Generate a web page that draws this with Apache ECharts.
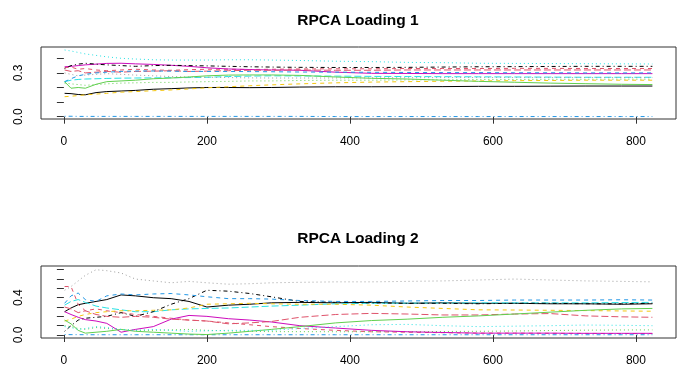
<!DOCTYPE html>
<html>
<head>
<meta charset="utf-8">
<script src="https://cdn.jsdelivr.net/npm/echarts@6/dist/echarts.min.js"></script>
<style>
html,body{margin:0;padding:0;background:#fff;}
#chart{width:678px;height:375px;}
</style>
</head>
<body>
<div id="chart"></div>
<script>
// x positions (observation index) at which values were read
const xs = [1, 10, 20, 30, 45, 60, 80, 100, 125, 150, 175, 200, 230, 260, 290, 330, 380, 430, 480, 530, 580, 630, 680, 730, 780, 823];

// RPCA Loading 1 (13 variables)
const L1_v1  = [0.160,0.158,0.152,0.150,0.165,0.172,0.176,0.180,0.188,0.192,0.197,0.200,0.200,0.199,0.200,0.203,0.205,0.205,0.206,0.206,0.208,0.208,0.209,0.210,0.210,0.210];
const L1_v2  = [0.335,0.340,0.325,0.330,0.320,0.315,0.320,0.325,0.320,0.318,0.322,0.325,0.325,0.323,0.325,0.327,0.328,0.328,0.330,0.330,0.330,0.331,0.331,0.330,0.330,0.330];
const L1_v3  = [0.230,0.225,0.220,0.215,0.220,0.225,0.230,0.232,0.235,0.235,0.238,0.240,0.242,0.245,0.245,0.248,0.250,0.250,0.252,0.253,0.255,0.255,0.256,0.256,0.257,0.257];
const L1_v4  = [0.003,0.003,0.002,0.002,0.002,0.002,0.002,0.002,0.002,0.002,0.002,0.002,0.002,0.002,0.002,0.002,0.001,0.001,0.001,0.001,0.001,0.001,0.001,0.001,0.001,0.001];
const L1_v5  = [0.240,0.250,0.255,0.258,0.260,0.262,0.264,0.265,0.266,0.267,0.268,0.270,0.275,0.278,0.280,0.279,0.278,0.276,0.275,0.274,0.273,0.272,0.271,0.270,0.270,0.270];
const L1_v6  = [0.342,0.345,0.350,0.355,0.360,0.365,0.366,0.362,0.358,0.352,0.345,0.335,0.327,0.323,0.320,0.318,0.305,0.297,0.296,0.295,0.295,0.295,0.295,0.295,0.295,0.295];
const L1_v7  = [0.137,0.140,0.145,0.150,0.155,0.160,0.168,0.172,0.178,0.183,0.190,0.198,0.205,0.212,0.218,0.225,0.232,0.237,0.240,0.243,0.245,0.247,0.248,0.250,0.250,0.250];
const L1_v8  = [0.300,0.290,0.280,0.285,0.290,0.295,0.290,0.285,0.280,0.275,0.272,0.270,0.268,0.266,0.265,0.265,0.265,0.266,0.267,0.268,0.268,0.268,0.268,0.268,0.268,0.268];
const L1_v9  = [0.330,0.350,0.360,0.366,0.360,0.355,0.350,0.345,0.350,0.352,0.350,0.348,0.345,0.342,0.340,0.338,0.337,0.337,0.338,0.340,0.342,0.343,0.344,0.345,0.345,0.345];
const L1_v10 = [0.320,0.310,0.315,0.300,0.305,0.310,0.305,0.310,0.312,0.315,0.310,0.312,0.315,0.318,0.318,0.320,0.318,0.318,0.320,0.320,0.320,0.320,0.320,0.320,0.320,0.320];
const L1_v11 = [0.240,0.195,0.200,0.195,0.222,0.240,0.245,0.250,0.260,0.265,0.272,0.280,0.285,0.286,0.286,0.283,0.272,0.263,0.258,0.250,0.242,0.236,0.230,0.226,0.222,0.220];
const L1_v12 = [0.240,0.260,0.280,0.290,0.300,0.305,0.310,0.313,0.313,0.312,0.310,0.310,0.310,0.309,0.308,0.306,0.305,0.304,0.303,0.302,0.302,0.301,0.301,0.300,0.300,0.300];
const L1_v13 = [0.457,0.450,0.440,0.430,0.420,0.410,0.400,0.395,0.390,0.388,0.388,0.388,0.390,0.390,0.388,0.385,0.380,0.377,0.372,0.370,0.366,0.365,0.364,0.363,0.362,0.361];

// RPCA Loading 2 (13 variables)
const L2_v1  = [0.250,0.290,0.325,0.340,0.360,0.380,0.430,0.420,0.400,0.390,0.360,0.300,0.320,0.330,0.345,0.350,0.345,0.350,0.340,0.345,0.340,0.340,0.335,0.335,0.330,0.335];
const L2_v2  = [0.520,0.520,0.330,0.260,0.280,0.260,0.240,0.220,0.200,0.180,0.160,0.150,0.130,0.110,0.090,0.070,0.050,0.035,0.030,0.025,0.020,0.020,0.018,0.017,0.016,0.015];
const L2_v3  = [0.100,0.090,0.070,0.060,0.080,0.070,0.060,0.050,0.050,0.055,0.060,0.050,0.045,0.040,0.036,0.036,0.035,0.035,0.036,0.038,0.040,0.043,0.048,0.052,0.054,0.055];
const L2_v4  = [0.005,0.004,0.004,0.003,0.003,0.003,0.003,0.003,0.003,0.003,0.003,0.003,0.003,0.003,0.003,0.003,0.003,0.003,0.003,0.003,0.003,0.003,0.003,0.003,0.003,0.003];
const L2_v5  = [0.320,0.360,0.380,0.350,0.310,0.290,0.270,0.250,0.250,0.270,0.280,0.285,0.290,0.300,0.310,0.320,0.335,0.340,0.342,0.343,0.345,0.345,0.345,0.345,0.348,0.350];
const L2_v6  = [0.250,0.220,0.190,0.165,0.150,0.125,0.030,0.060,0.090,0.170,0.210,0.200,0.175,0.160,0.140,0.100,0.075,0.050,0.035,0.027,0.020,0.020,0.020,0.018,0.018,0.018];
const L2_v7  = [0.150,0.170,0.200,0.220,0.240,0.250,0.260,0.260,0.265,0.270,0.290,0.330,0.335,0.340,0.335,0.330,0.330,0.320,0.300,0.285,0.270,0.268,0.265,0.262,0.258,0.255];
const L2_v8  = [0.480,0.520,0.580,0.640,0.700,0.690,0.665,0.600,0.580,0.560,0.575,0.560,0.545,0.550,0.560,0.565,0.570,0.570,0.575,0.580,0.590,0.600,0.590,0.580,0.575,0.570];
const L2_v9  = [0.040,0.100,0.160,0.180,0.190,0.200,0.240,0.200,0.250,0.330,0.390,0.480,0.470,0.445,0.410,0.360,0.350,0.345,0.340,0.340,0.335,0.340,0.340,0.335,0.335,0.340];
const L2_v10 = [0.300,0.280,0.240,0.260,0.220,0.200,0.190,0.200,0.190,0.170,0.160,0.150,0.120,0.130,0.145,0.190,0.220,0.232,0.225,0.215,0.215,0.225,0.230,0.205,0.195,0.190];
const L2_v11 = [0.160,0.120,0.050,0.020,0.030,0.040,0.060,0.040,0.030,0.020,0.010,0.005,0.020,0.040,0.060,0.090,0.130,0.155,0.170,0.190,0.205,0.225,0.245,0.265,0.280,0.285];
const L2_v12 = [0.340,0.420,0.450,0.380,0.360,0.420,0.440,0.430,0.440,0.445,0.430,0.410,0.390,0.390,0.385,0.370,0.360,0.360,0.365,0.370,0.370,0.375,0.375,0.375,0.378,0.375];
const L2_v13 = [0.090,0.080,0.060,0.070,0.090,0.080,0.060,0.050,0.060,0.050,0.040,0.045,0.050,0.050,0.050,0.070,0.090,0.110,0.114,0.100,0.090,0.095,0.100,0.107,0.104,0.100];

// axis ticks and labels
const xTicks = [0, 200, 400, 600, 800];
const y1Ticks = [0, 0.1, 0.2, 0.3, 0.4];
const y1Labels = [0, 0.3];
const y2Ticks = [0, 0.1, 0.2, 0.3, 0.4, 0.5, 0.6, 0.7];
const y2Labels = [0, 0.4];
const titles = ['RPCA Loading 1', 'RPCA Loading 2'];

// styles (R palette, matplot lty cycle)
const palette = ['#000000', '#DF536B', '#61D04F', '#2297E6', '#28E2E5', '#CD0BBC', '#F5C710', '#9E9E9E'];
const ltys = ['solid', [4, 4], [1, 3], [1, 3, 4, 3], [7, 3]];

const panel1 = [L1_v1, L1_v2, L1_v3, L1_v4, L1_v5, L1_v6, L1_v7, L1_v8, L1_v9, L1_v10, L1_v11, L1_v12, L1_v13];
const panel2 = [L2_v1, L2_v2, L2_v3, L2_v4, L2_v5, L2_v6, L2_v7, L2_v8, L2_v9, L2_v10, L2_v11, L2_v12, L2_v13];

const FONT = '"Liberation Sans", Arial, sans-serif';
const chart = echarts.init(document.getElementById('chart'), null, {renderer: 'canvas'});

function mkSeries(panel, gi) {
  return panel.map((vals, i) => ({
    type: 'line',
    xAxisIndex: gi, yAxisIndex: gi,
    data: xs.map((x, k) => [x, vals[k]]),
    showSymbol: false, symbol: 'none',
    silent: true, animation: false,
    lineStyle: {color: palette[i % 8], width: 1, type: ltys[i % 5]},
    z: 2 + i
  }));
}

function xAxisCfg(gi) {
  return {
    gridIndex: gi, type: 'value', min: -32, max: 856,
    axisLine: {show: false},
    splitLine: {show: false},
    axisTick: {show: true, length: 7, lineStyle: {color: '#333'}, customValues: xTicks},
    axisLabel: {show: true, customValues: xTicks, margin: 17, color: '#000', fontSize: 12, fontFamily: FONT,
      formatter: v => String(v)}
  };
}
function yAxisCfg(gi, mn, mx, ticks, labels) {
  return {
    gridIndex: gi, type: 'value', min: mn, max: mx,
    axisLine: {show: false},
    splitLine: {show: false},
    axisTick: {show: true, length: 7, lineStyle: {color: '#333'}, customValues: ticks},
    axisLabel: {show: true, customValues: labels, rotate: 90, margin: 16, color: '#000', fontSize: 12, fontFamily: FONT,
      formatter: v => v.toFixed(1)}
  };
}

chart.setOption({
  animation: false,
  backgroundColor: '#fff',
  title: [
    {text: titles[0], left: 353, top: 8, textAlign: 'center', textStyle: {fontSize: 15.5, fontWeight: 'bold', color: '#000', fontFamily: FONT}},
    {text: titles[1], left: 353, top: 226, textAlign: 'center', textStyle: {fontSize: 15.5, fontWeight: 'bold', color: '#000', fontFamily: FONT}}
  ],
  grid: [
    {left: 41, top: 47, width: 635, height: 72, show: true, borderColor: '#333', borderWidth: 1, backgroundColor: 'transparent'},
    {left: 41, top: 266, width: 635, height: 72, show: true, borderColor: '#333', borderWidth: 1, backgroundColor: 'transparent'}
  ],
  xAxis: [xAxisCfg(0), xAxisCfg(1)],
  yAxis: [
    yAxisCfg(0, -0.0158, 0.4774, y1Ticks, y1Labels),
    yAxisCfg(1, -0.032, 0.740, y2Ticks, y2Labels)
  ],
  series: mkSeries(panel1, 0).concat(mkSeries(panel2, 1))
});
</script>
</body>
</html>
